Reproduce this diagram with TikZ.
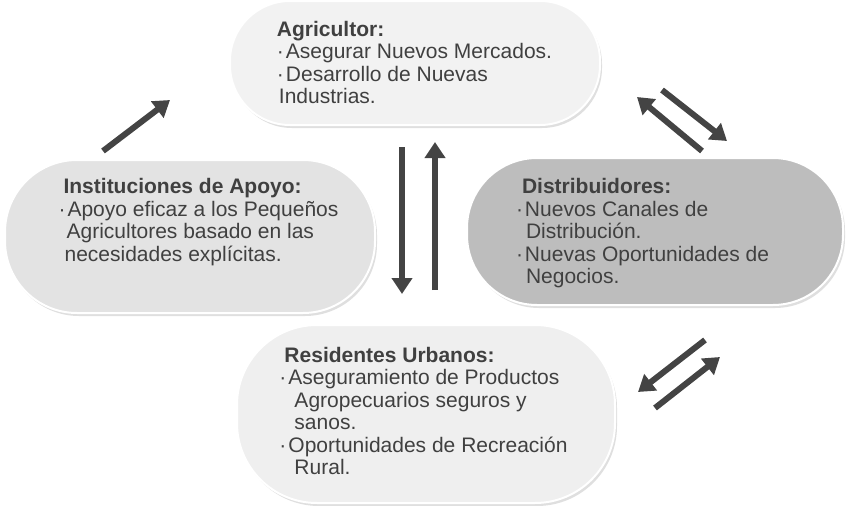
\documentclass[tikz,border=0pt]{standalone}
\usepackage{fontspec}
\setmainfont{Liberation Sans}
\usetikzlibrary{arrows.meta,shadows}
\definecolor{txtgray}{HTML}{404040}
\definecolor{arrgray}{HTML}{444444}
\definecolor{boxA}{HTML}{F2F2F2}
\definecolor{boxB}{HTML}{E3E3E3}
\definecolor{boxC}{HTML}{BDBDBD}
\definecolor{boxD}{HTML}{EFEFEF}

\newcommand{\bul}{\makebox[9pt][l]{·}}

\begin{document}
\begin{tikzpicture}[x=1pt,y=-1pt,font=\fontsize{21}{22.5}\selectfont,
    box/.style={draw=white,line width=2pt,rounded corners=#1,
      drop shadow={shadow xshift=2pt,shadow yshift=-3pt,fill=black!25}},
    txt/.style={align=left,inner sep=0pt,text=txtgray},
    flow/.style={draw=arrgray,line width=6pt,
      -{Triangle[width=20pt,length=16pt]}}]
  \useasboundingbox (0,0) rectangle (847,506);

  % the four parties
  \node[box=60pt,fill=boxA,minimum width=370pt,minimum height=124pt] (agr) at (415,63) {};
  \node[box=72pt,fill=boxB,minimum width=370pt,minimum height=153pt] (inst) at (190,236.5) {};
  \node[box=70pt,fill=boxC,minimum width=376pt,minimum height=147pt] (dist) at (655,231.5) {};
  \node[box=80pt,fill=boxD,minimum width=378pt,minimum height=178pt] (res) at (426,414) {};

  \node[txt] (agrT) at (414.5,62.5) {\textbf{Agricultor:}\\
    \bul Asegurar Nuevos Mercados.\\
    \bul Desarrollo de Nuevas\\
    \hspace*{2pt}Industrias.};
  \node[txt] (instT) at (198.5,222) {\hspace*{5pt}\textbf{Instituciones de Apoyo:}\\
    \bul Apoyo eficaz a los Pequeños\\
    \hspace*{8pt}Agricultores basado en las\\
    \hspace*{6pt}necesidades explícitas.};
  \node[txt] (distT) at (642.5,233.5) {\hspace*{6pt}\textbf{Distribuidores:}\\
    \bul Nuevos Canales de\\
    \hspace*{10pt}Distribución.\\
    \bul Nuevas Oportunidades de\\
    \hspace*{10pt}Negocios.};
  \node[txt] (resT) at (423.5,411) {\hspace*{5pt}\textbf{Residentes Urbanos:}\\
    \bul Aseguramiento de Productos\\
    \hspace*{15pt}Agropecuarios seguros y\\
    \hspace*{15pt}sanos.\\
    \bul Oportunidades de Recreación\\
    \hspace*{15pt}Rural.};

  % arrow ends
  \coordinate (i1) at (103,151);  \coordinate (a1) at (170,100);
  \coordinate (a2) at (402,147);  \coordinate (r2) at (402,294);
  \coordinate (r3) at (435,290);  \coordinate (a3) at (435,142);
  \coordinate (a4) at (662,90);   \coordinate (d4) at (727,141);
  \coordinate (d5) at (702,151);  \coordinate (a5) at (637,97);
  \coordinate (d6) at (705,340);  \coordinate (r6) at (638,392);
  \coordinate (r7) at (655,408);  \coordinate (d7) at (720,357);

  \draw[flow] (i1) -- (a1);
  \draw[flow] (a2) -- (r2);
  \draw[flow] (r3) -- (a3);
  \draw[flow] (a4) -- (d4);
  \draw[flow] (d5) -- (a5);
  \draw[flow] (d6) -- (r6);
  \draw[flow] (r7) -- (d7);
\end{tikzpicture}
\end{document}
